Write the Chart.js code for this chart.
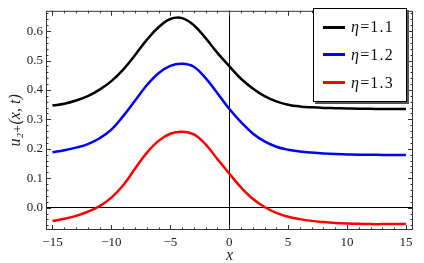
<!DOCTYPE html>
<html>
<head>
<meta charset="utf-8">
<script src="https://cdn.jsdelivr.net/npm/chart.js@4.4.1/dist/chart.umd.min.js"></script>
<style>
    html, body { margin: 0; padding: 0; background: #fff; }
    #wrap { position: relative; width: 424px; height: 263px; }
    #legend {
        position: absolute; left: 313px; top: 8px; width: 94px; height: 94px;
        box-sizing: border-box; border: 1.5px solid #000; background: #fff;
        box-shadow: 2px 2px 0 #555;
        font-family: "Liberation Serif", "DejaVu Serif", serif;
    }
    .row { position: absolute; left: 9px; height: 20px; display: flex; align-items: center; }
    .swatch { width: 22px; height: 3px; margin-right: 6px; }
    .lbl { font-size: 16px; letter-spacing: 1.2px; color: #111; white-space: nowrap; }
</style>
</head>
<body>
<div id="wrap">
    <canvas id="chart" width="424" height="263"></canvas>
    <div id="legend"></div>
</div>
<script>
// x positions (sampled every 1 unit)
const xValues = [-15, -14, -13, -12, -11, -10, -9, -8, -7, -6, -5, -4, -3, -2, -1,
                 0, 1, 2, 3, 4, 5, 6, 7, 8, 9, 10, 11, 12, 13, 14, 15];

const eta11 = [0.347, 0.353, 0.364, 0.379, 0.401, 0.430, 0.469, 0.518, 0.570, 0.613, 0.641, 0.644, 0.620, 0.576, 0.526,
               0.481, 0.438, 0.405, 0.379, 0.361, 0.350, 0.344, 0.341, 0.339, 0.338, 0.337, 0.336, 0.336, 0.335, 0.335, 0.335];
const eta12 = [0.188, 0.195, 0.204, 0.216, 0.236, 0.265, 0.311, 0.363, 0.416, 0.457, 0.482, 0.489, 0.479, 0.440, 0.389,
               0.336, 0.291, 0.252, 0.225, 0.207, 0.197, 0.191, 0.187, 0.184, 0.182, 0.181, 0.180, 0.180, 0.179, 0.179, 0.179];
const eta13 = [-0.045, -0.038, -0.028, -0.014, 0.005, 0.034, 0.076, 0.132, 0.186, 0.227, 0.251, 0.258, 0.249, 0.215, 0.165,
               0.116, 0.069, 0.030, 0.002, -0.018, -0.031, -0.039, -0.045, -0.049, -0.052, -0.054, -0.055, -0.056, -0.056, -0.056, -0.056];

const seriesLabels = ["1.1", "1.2", "1.3"];
const seriesColors = ["#000000", "#0000ff", "#ff0000"];

const xTicks = [-15, -10, -5, 0, 5, 10, 15];
const yTicks = [0.0, 0.1, 0.2, 0.3, 0.4, 0.5, 0.6];

const serif = '"Liberation Serif", "DejaVu Serif", serif';

// Mathematica style frame with inward ticks on all four sides
const frameTicks = {
    id: "frameTicks",
    afterDraw(chart) {
        const { ctx, chartArea: a, scales: { x, y } } = chart;
        ctx.save();
        ctx.strokeStyle = "#333";
        ctx.lineWidth = 1;
        ctx.strokeRect(a.left + 0.5, a.top + 0.5, a.right - a.left - 1, a.bottom - a.top - 1);
        ctx.beginPath();
        for (let v = -15; v <= 15; v++) {
            const p = Math.round(x.getPixelForValue(v)) + 0.5;
            const len = v % 5 === 0 ? 5 : 2.5;
            ctx.moveTo(p, a.bottom); ctx.lineTo(p, a.bottom - len);
            ctx.moveTo(p, a.top); ctx.lineTo(p, a.top + len);
        }
        for (let k = -3; k <= 33; k++) {
            const p = Math.round(y.getPixelForValue(k * 0.02)) + 0.5;
            const len = k % 5 === 0 ? 5 : 2.5;
            ctx.moveTo(a.left, p); ctx.lineTo(a.left + len, p);
            ctx.moveTo(a.right, p); ctx.lineTo(a.right - len, p);
        }
        ctx.stroke();
        ctx.restore();
    }
};

const axisLineColor = c => (c.tick && c.tick.value === 0 ? "#000" : "rgba(0,0,0,0)");

const chart = new Chart(document.getElementById("chart"), {
    type: "line",
    data: {
        datasets: [eta11, eta12, eta13].map((vals, i) => ({
            label: "η=" + seriesLabels[i],
            data: vals.map((v, j) => ({ x: xValues[j], y: v })),
            borderColor: seriesColors[i],
            borderWidth: 2.5,
            pointRadius: 0,
            tension: 0.4,
            fill: false
        }))
    },
    options: {
        responsive: false,
        animation: false,
        layout: { padding: { top: 4, right: 11, left: 0, bottom: 0 } },
        plugins: { legend: { display: false }, tooltip: { enabled: false } },
        scales: {
            x: {
                type: "linear",
                min: -15.55,
                max: 15.6,
                afterBuildTicks: s => { s.ticks = xTicks.map(v => ({ value: v })); },
                afterFit: s => { s.height = 33; },
                ticks: {
                    callback: v => (v < 0 ? "\u2212" + (-v) : String(v)),
                    font: { family: serif, size: 13 },
                    color: "#222",
                    padding: 5,
                    maxRotation: 0
                },
                grid: { drawTicks: false, color: axisLineColor, lineWidth: 1 },
                border: { display: false },
                title: {
                    display: true, text: "x",
                    font: { family: serif, size: 16, style: "italic", lineHeight: 1 },
                    color: "#222",
                    padding: { top: 0, bottom: -1 }
                }
            },
            y: {
                type: "linear",
                min: -0.076,
                max: 0.669,
                afterBuildTicks: s => { s.ticks = yTicks.map(v => ({ value: v })); },
                afterFit: s => { s.width = 46; },
                ticks: {
                    callback: v => v.toFixed(1),
                    font: { family: serif, size: 13 },
                    color: "#222",
                    padding: 3
                },
                grid: { drawTicks: false, color: axisLineColor, lineWidth: 1 },
                border: { display: false },
                title: {
                    display: true, text: "u₂₊(x, t)",
                    font: { family: serif, size: 16, style: "italic" },
                    color: "#222",
                    padding: { top: 6, bottom: 0 }
                }
            }
        }
    },
    plugins: [frameTicks]
});

// legend box drawn as HTML overlay
const legend = document.getElementById("legend");
seriesLabels.forEach((lab, i) => {
    const row = document.createElement("div");
    row.className = "row";
    row.style.top = (8 + i * 27.8) + "px";
    row.innerHTML = `<div class="swatch" style="background:${seriesColors[i]}"></div>` +
        `<span class="lbl"><i>η</i>=${lab}</span>`;
    legend.appendChild(row);
});
</script>
</body>
</html>
